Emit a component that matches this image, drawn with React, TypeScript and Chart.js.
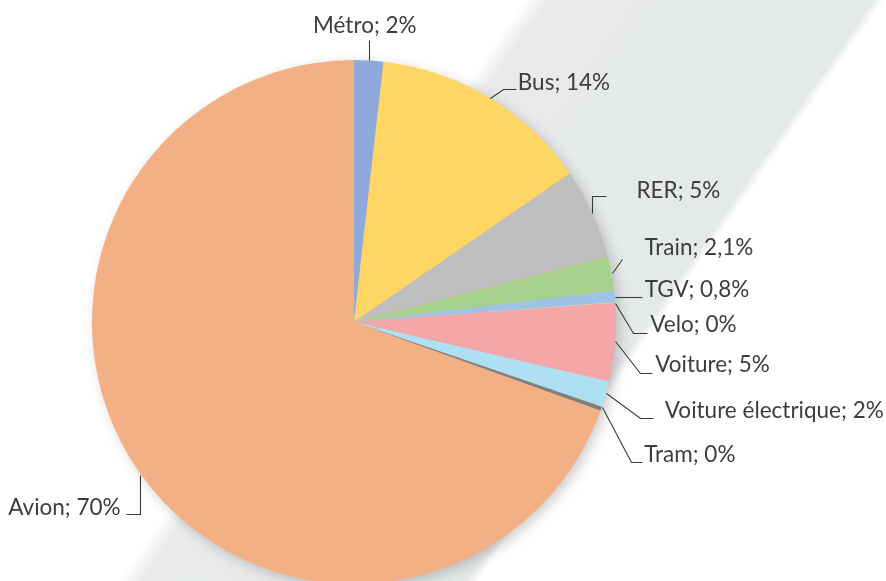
import React, { useEffect, useRef } from "react";
import { Chart, registerables } from "chart.js";

Chart.register(...registerables);

const categories = [
  "Métro",
  "Bus",
  "RER",
  "Train",
  "TGV",
  "Velo",
  "Voiture",
  "Voiture électrique",
  "Tram",
  "Avion",
];
const shares = [1.8, 13.6, 5.6, 2.1, 0.7, 0.05, 4.8, 1.6, 0.25, 69.5];
const shownLabels = ["2%", "14%", "5%", "2,1%", "0,8%", "0%", "5%", "2%", "0%", "70%"];
const sliceColors = [
  "#8eaadb",
  "#fdd663",
  "#bfbfbf",
  "#a9d18e",
  "#9dc3e6",
  "#d9d9d9",
  "#f5a6a8",
  "#ade0f2",
  "#7f7f7f",
  "#f3b084",
];

// leader-line layout, offsets relative to the slice's outer mid point
type Layout = { path: number[][]; text: number[]; align: CanvasTextAlign };
const labelLayout: Layout[] = [
  { path: [[0, 0], [0, -20]], text: [-4, -35], align: "center" },
  { path: [[1, 1], [14, -8], [27, -8]], text: [29, -15], align: "left" },
  { path: [[0, 0], [0, -17], [14, -17]], text: [44, -23], align: "left" },
  { path: [[0, -1], [10, -15]], text: [33, -26], align: "left" },
  { path: [[0, 0], [27, 0]], text: [30, -7], align: "left" },
  { path: [[0, 0], [18, 30], [32, 30]], text: [35, 22], align: "left" },
  { path: [[0, -2], [25, 30], [37, 30]], text: [40, 22], align: "left" },
  { path: [[0, -1], [34, 24], [47, 24]], text: [59, 16], align: "left" },
  { path: [[1, -2], [30, 53], [41, 53]], text: [43, 46], align: "left" },
  { path: [[0, 2], [0, 41], [-14, 41]], text: [-19, 35], align: "right" },
];

const shadowPlugin = {
  id: "pieShadow",
  beforeDatasetsDraw(chart: any) {
    const ctx = chart.ctx as CanvasRenderingContext2D;
    const arc = chart.getDatasetMeta(0).data[0];
    if (!arc) return;
    const p = arc.getProps(["x", "y", "outerRadius"], true);
    ctx.save();
    ctx.shadowColor = "rgba(0,0,0,0.22)";
    ctx.shadowBlur = 14;
    ctx.shadowOffsetX = 4;
    ctx.shadowOffsetY = 4;
    ctx.fillStyle = "#f3b084";
    ctx.beginPath();
    ctx.arc(p.x, p.y, p.outerRadius - 1, 0, Math.PI * 2);
    ctx.fill();
    ctx.restore();
  },
};

const labelPlugin = {
  id: "excelLabels",
  afterDatasetsDraw(chart: any) {
    const ctx = chart.ctx as CanvasRenderingContext2D;
    const meta = chart.getDatasetMeta(0);
    ctx.save();
    ctx.font = "22.5px Lato";
    ctx.textBaseline = "middle";
    meta.data.forEach((arc: any, i: number) => {
      const p = arc.getProps(["x", "y", "startAngle", "endAngle", "outerRadius"], true);
      const mid = (p.startAngle + p.endAngle) / 2;
      const px = p.x + p.outerRadius * Math.cos(mid);
      const py = p.y + p.outerRadius * Math.sin(mid);
      const lay = labelLayout[i];
      ctx.strokeStyle = "#3a3a3a";
      ctx.lineWidth = 1.1;
      ctx.beginPath();
      lay.path.forEach((pt, k) => {
        const x = Math.round(px + pt[0]) + 0.5;
        const y = Math.round(py + pt[1]) + 0.5;
        if (k === 0) ctx.moveTo(x, y);
        else ctx.lineTo(x, y);
      });
      ctx.stroke();
      ctx.fillStyle = "#3d3d3d";
      ctx.textAlign = lay.align;
      ctx.fillText(categories[i] + "; " + shownLabels[i], px + lay.text[0], py + lay.text[1]);
    });
    ctx.restore();
  },
};

export default function App() {
  const ref = useRef<HTMLCanvasElement>(null);
  useEffect(() => {
    document.body.style.margin = "0";
    document.body.style.overflow = "hidden";
    const chart = new Chart(ref.current!, {
      type: "pie",
      data: {
        labels: categories,
        datasets: [
          {
            data: shares,
            backgroundColor: sliceColors,
            borderWidth: 0,
          },
        ],
      },
      options: {
        responsive: false,
        animation: false,
        layout: { padding: { left: 92, right: 270, top: 60, bottom: 16 } },
        plugins: {
          legend: { display: false },
          tooltip: { enabled: false },
        },
      },
      plugins: [shadowPlugin, labelPlugin],
    });
    return () => chart.destroy();
  }, []);
  return (
    <div
      style={{
        width: 886,
        height: 581,
        overflow: "hidden",
        position: "relative",
        background:
          "linear-gradient(125deg, #ffffff 0%, #ffffff 40.6%, #e8eaeb 42.4%, #e6e9ea 67.6%, #ffffff 68.4%, #ffffff 100%)",
      }}
    >
      <canvas ref={ref} width={886} height={600} style={{ display: "block" }} />
    </div>
  );
}
